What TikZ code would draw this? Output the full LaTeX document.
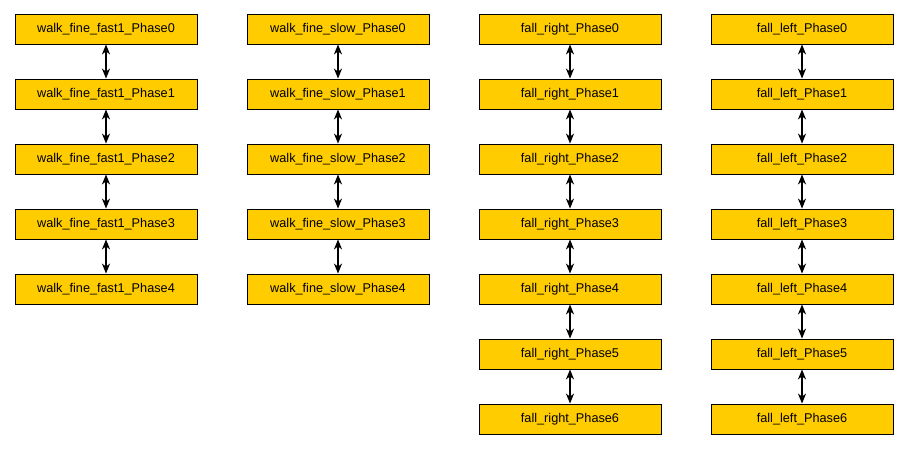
\documentclass[tikz,border=0pt]{standalone}
\usepackage{fontspec}
\setmainfont{Liberation Sans}
\usetikzlibrary{arrows.meta}
\definecolor{boxfill}{HTML}{FFCC00}
\begin{document}
\begin{tikzpicture}[x=1pt,y=-1pt,
  phase/.style={draw=black, fill=boxfill, line width=0.8pt, minimum width=182pt, minimum height=30pt, inner sep=0pt, font=\fontsize{12.7}{14}\selectfont},
  link/.style={{Stealth[length=10pt,width=8pt,inset=3pt]}-{Stealth[length=10pt,width=8pt,inset=3pt]}, line width=1.3pt}]
\useasboundingbox (0,0) rectangle (908,450);
\foreach \name/\cx/\n/\tag in {walk_fine_fast1/106/4/a, walk_fine_slow/338/4/b, fall_right/570/6/c, fall_left/802/6/d}{
  \foreach \i in {0,...,\n}{
    \node[phase] (\tag\i) at (\cx, 29+65*\i) {\detokenize\expandafter{\name}\_Phase\i};
  }
}
\foreach \tag/\n in {a/4,b/4,c/6,d/6}{
  \foreach \i [evaluate=\i as \j using int(\i-1)] in {1,...,\n}{
    \draw[link] (\tag\j.south) -- (\tag\i.north);
  }
}
\end{tikzpicture}
\end{document}
